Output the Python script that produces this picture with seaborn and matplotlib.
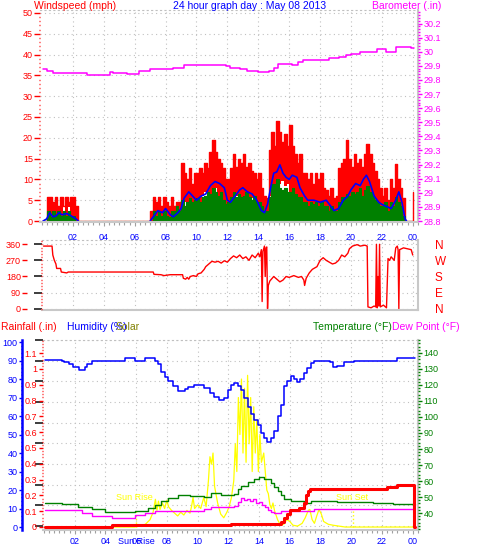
import numpy as np
import matplotlib
matplotlib.use("Agg")
import matplotlib.pyplot as plt
import matplotlib.transforms as mtransforms
import seaborn as sns
from matplotlib.ticker import MultipleLocator, FixedLocator, FuncFormatter

sns.set_theme(style="white")
plt.rcParams["font.family"] = ["Liberation Sans", "DejaVu Sans"]

# ---------------- data (hours since midnight) ----------------
# wind, 10 minute samples from 00:00, mph
gust_hi = [
    0, 0, 5.8, 5.8, 4.5, 5.8,          # 00
    3.5, 5.8, 3.5, 5.8, 4.5, 5.8,      # 01
    5.8, 3.5, 0, 0, 0, 0,              # 02
    0, 0, 0, 0, 0, 0,                  # 03
    0, 0, 0, 0, 0, 0,                  # 04
    0, 0, 0, 0, 0, 0,                  # 05
    0, 0, 0, 0, 0, 0,                  # 06
    2.3, 5.8, 4.5, 5.8, 3.5, 5.8,      # 07
    4.5, 3.5, 5.8, 3.5, 4.5, 4.5,      # 08
    14, 11.5, 10, 12.8, 9, 11.5,       # 09
    11.5, 12.8, 11.5, 14, 12.8, 16.5,  # 10
    19.5, 16.5, 15, 14, 12.8, 10,      # 11
    10, 12.8, 16, 13, 15, 14,          # 12
    16, 13, 14, 12, 11.5, 10,          # 13
    11.5, 8, 6, 5.5, 17, 21.5,         # 14
    18, 24, 21.5, 19, 21, 18,          # 15
    23, 18, 16, 14, 16, 11.5,          # 16
    11.5, 10, 11.5, 9, 11.5, 10,       # 17
    11.5, 8, 7.5, 6, 8, 5.5,           # 18
    6, 12.8, 14, 15, 19.5, 15,         # 19
    13, 16, 14, 15, 13, 16,            # 20
    18.5, 16, 14, 12, 10, 8,           # 21
    6, 8, 5, 10, 8, 13.7,              # 22
    10, 8, 5.5, 0, 0, 0,               # 23
    7]
gust_lo = [
    0, 0, 0, 0, 0, 0,
    0, 0, 3.3, 0, 3.3, 0,
    0, 0, 0, 0, 0, 0,
    0, 0, 0, 0, 0, 0,
    0, 0, 0, 0, 0, 0,
    0, 0, 0, 0, 0, 0,
    0, 0, 0, 0, 0, 0,
    0, 0, 0, 1, 0, 0,
    0, 0, 1.2, 2.3, 2.3, 2.3,
    3.5, 4.5, 4.5, 5.5, 3.5, 4.5,
    5, 4.5, 6, 7, 6.5, 6,
    7, 8, 6, 6.5, 3.5, 4,
    4, 5, 6, 6, 6.5, 5,
    5, 6, 5, 5.5, 3.5, 3,
    2.5, 0.5, 0.5, 1, 6, 8,
    9, 10, 9, 9.5, 8.5, 9,
    7, 8, 6, 5, 5.5, 4,
    4, 3, 2.5, 3, 4, 3,
    3, 2, 2, 1.5, 2, 2,
    1.5, 3.5, 5, 4, 5, 5.5,
    5, 6, 6.5, 6, 5, 6,
    6, 5, 3.5, 3, 2, 2,
    0.5, 1.5, 1, 1.5, 1, 2,
    1.5, 0.5, 0, 0, 0, 0,
    0]
speed_hi = [
    0, 0, 2.3, 1, 2.3, 1.2,
    2.3, 1.2, 2.3, 1.2, 2.3, 1,
    1.2, 0, 0, 0, 0, 0,
    0, 0, 0, 0, 0, 0,
    0, 0, 0, 0, 0, 0,
    0, 0, 0, 0, 0, 0,
    0, 0, 0, 0, 0, 0,
    0, 2.3, 1.2, 2.3, 1.2, 2.3,
    1.2, 1, 2.3, 2.3, 3.5, 2.3,
    5, 3.5, 4.5, 5.5, 4.5, 5,
    5.5, 4.5, 5.8, 6, 7, 6.5,
    8, 7, 6, 7, 5, 4,
    4.5, 5.8, 7, 5.8, 6.5, 5.8,
    6, 7, 5.8, 5, 6, 4.5,
    4.5, 3.5, 2.3, 2.3, 5.8, 9,
    9, 10, 8, 7.5, 8, 7,
    7, 8, 6.5, 5.8, 5.8, 4.5,
    4.5, 3.5, 4.5, 4, 4.5, 3.5,
    4.5, 3.5, 3.5, 2.3, 3.5, 2.3,
    2.3, 4.5, 5.8, 5.8, 6.5, 6,
    7, 6.5, 7, 8, 6, 7.5,
    8.5, 7, 6, 5, 4.5, 3.5,
    3.5, 4.5, 2.3, 4.5, 3.5, 5.8,
    4.5, 3.5, 1.2, 0, 0, 0,
    0]
wind_t = [i / 6 for i in range(len(gust_hi))]

# average wind speed (nan = no line)
avg_t = [0.07, 0.3, 0.5, 0.7, 0.9, 1.1, 1.3, 1.6, 1.9, 2.2, 2.35, 4.5, 7.0, 7.2, 7.5, 7.8,
         8.0, 8.3, 8.5, 8.8, 9.0, 9.2, 9.5, 9.7, 10.0, 10.3, 10.6, 10.9, 11.2, 11.5, 11.8,
         12.0, 12.2, 12.5, 12.8, 13.0, 13.3, 13.6, 13.9, 14.2, 14.4, 14.6, 14.8, 15.0, 15.2,
         15.4, 15.6, 15.8, 16.0, 16.2, 16.5, 16.7, 17.0, 17.2, 17.6, 18.0, 18.4, 18.6, 18.9,
         19.2, 19.5, 19.8, 20.0, 20.3, 20.6, 20.8, 21.0, 21.2, 21.5, 21.8, 22.0, 22.3, 22.6,
         22.9, 23.1, 23.3, 23.5, 23.6]
avg_v = [0, 0.5, 2, 1, 1.2, 2, 1.5, 1.8, 1.2, 0.5, 0, np.nan, 0, 1, 2.5, 2,
         3, 1.5, 1, 2, 3, 5.5, 7, 6.2, 5, 6, 6.5, 8.5, 9.5, 9, 8,
         5, 4.5, 6, 7.5, 8, 7, 6.5, 5, 2.5, 2, 4, 8, 11.5, 11.8,
         13.5, 11.5, 10.5, 10, 11, 10.5, 8, 6, 5, 5, 4.5, 5, 4, 2.5,
         3, 5, 6, 7.5, 9, 8.5, 10, 11, 9.5, 6, 4.5, 4, 3.5, 3,
         5, 7, 4.5, 0.5, 0]

# barometer, inHg
baro_t = [0.05, 0.3, 0.7, 2.5, 2.9, 4.4, 4.6, 5.5, 6.3, 7.0, 8.1, 8.5, 9.2, 11.9, 12.2, 12.8,
          13.3, 14.0, 14.7, 15.0, 15.3, 16.2, 16.6, 16.9, 18.2, 18.6, 19.2, 19.7, 20.0, 20.6,
          21.7, 22.3, 22.9, 23.9, 24.1]
baro_v = [29.876, 29.864, 29.852, 29.85, 29.836, 29.855, 29.85, 29.845, 29.86, 29.876, 29.88,
          29.888, 29.907, 29.9, 29.888, 29.875, 29.862, 29.857, 29.862, 29.885, 29.91, 29.905,
          29.93, 29.945, 29.94, 29.955, 29.96, 29.975, 29.985, 30.0, 30.017, 30.0, 30.033,
          30.026, 30.026]

# wind direction, degrees
dir_t = [0.1, 0.65, 0.7, 0.8, 0.9, 0.95, 1.2, 1.25, 1.6, 1.7,
         7.2, 7.25, 7.7, 7.9, 8.3, 9.1, 9.15, 9.3, 9.4, 9.5,
         9.6, 9.8, 10.0, 10.1, 10.3, 10.5, 10.6, 10.8, 11.0, 11.2,
         11.4, 11.6, 11.8, 12.0, 12.2, 12.4, 12.6, 12.8, 13.0, 13.2,
         13.4, 13.6, 13.8, 14.0, 14.1, 14.2, 14.25, 14.3, 14.4, 14.45,
         14.5, 14.55, 14.6, 14.65, 14.75, 14.9, 15.0, 15.2, 15.4, 15.6,
         15.8, 16.0, 16.3, 16.6, 16.8, 16.95, 17.0, 17.1, 17.3, 17.5,
         17.8, 18.0, 18.2, 18.4, 18.6, 18.8, 19.0, 19.2, 19.4, 19.6,
         19.8, 19.9, 20.1, 20.4, 20.6, 20.9, 21.05, 21.1, 21.3, 21.5,
         21.6, 21.65, 21.7, 21.75, 21.8, 21.85, 21.9, 22.1, 22.3, 22.4,
         22.5, 22.6, 22.8, 22.9, 23.0, 23.05, 23.1, 23.15, 23.4, 23.9,
         24.0]
dir_v = [350, 350, 300, 270, 250, 225, 225, 205, 200, 205,
         205, 192, 190, 185, 190, 190, 170, 165, 175, 165,
         180, 185, 180, 195, 200, 220, 235, 250, 265, 260,
         265, 255, 268, 260, 280, 295, 285, 300, 280, 290,
         270, 300, 285, 310, 290, 330, 40, 320, 350, 180,
         340, 345, 0, 130, 155, 170, 180, 165, 150, 160,
         180, 175, 185, 175, 180, 160, 130, 170, 200, 220,
         235, 270, 285, 270, 260, 250, 255, 270, 300, 290,
         310, 335, 350, 358, 350, 355, 350, 10, 5, 15,
         10, 360, 5, 180, 15, 360, 10, 20, 5, 280,
         270, 290, 270, 340, 350, 330, 0, 330, 340, 330,
         300]

# humidity, %
hum_t = [0.07, 1.16, 1.3, 1.6, 1.9, 2.25, 2.7, 2.8, 3.1, 5.26,
         5.9, 6.56, 7.2, 7.4, 7.64, 7.9, 8.07, 8.4, 8.72, 9.15,
         9.4, 9.79, 10.44, 10.8, 11.09, 11.4, 11.7, 11.95, 12.2, 12.38,
         12.6, 12.81, 13.0, 13.25, 13.5, 13.68, 13.9, 14.11, 14.3, 14.54,
         14.75, 14.97, 15.2, 15.4, 15.62, 15.8, 16.05, 16.3, 16.48, 16.69,
         16.9, 17.12, 17.35, 17.56, 18.64, 18.8, 19.07, 19.5, 20.15, 22.96,
         24.15]
hum_v = [90.5, 90, 89, 88, 86.5, 85, 86.5, 88, 90, 91.5,
         90, 91.5, 90, 88, 84, 81, 79, 76, 73.5, 74.5,
         75.5, 77, 75, 72.5, 70.5, 68.5, 69.5, 74, 77, 78,
         76.5, 74, 70, 65, 61, 58, 55, 51, 48, 46,
         48, 52, 60, 66, 76, 79, 81.5, 80, 78.5, 80,
         83, 86, 88.5, 90, 89, 86.5, 87, 89, 90, 91.5,
         91.5]

# temperature and dew point, F
temp_t = [0.07, 1.16, 2.24, 3.1, 3.96, 5.91, 6.8, 7.2, 7.6, 8.07,
          8.72, 9.5, 10.44, 10.87, 11.52, 12.38, 12.6, 12.81, 13.25, 13.68,
          14.0, 14.3, 14.54, 14.75, 14.97, 15.2, 15.4, 15.62, 16.05, 16.9,
          17.35, 19.07, 20.15, 21.44, 22.74, 24.15]
temp_v = [46.5, 45.5, 44, 42.5, 40.5, 41.5, 43, 45, 47.5, 49.5,
          51, 50.5, 50, 52.5, 51, 52, 55, 57, 59.5, 61.5,
          62.5, 61.5, 61, 59, 56, 53.5, 51, 48.5, 47.5, 46.5,
          47.5, 47, 47, 46, 45.5, 45.5]
dew_t = [0.07, 2.45, 3.1, 4.4, 5.9, 6.56, 7.2, 8.72, 10.44, 10.87,
         12.38, 12.6, 12.8, 13.0, 13.2, 13.4, 13.6, 13.8, 14.0, 14.2,
         14.4, 14.6, 14.8, 14.97, 15.4, 17.56, 24.15]
dew_v = [42, 40, 38, 37, 38.5, 40, 41.5, 41, 42.5, 44,
         44.5, 47, 49.5, 48, 49, 47.5, 48.5, 46.5, 47, 45,
         44, 42, 40.5, 40, 41, 42.5, 42.5]

# rainfall, in
rain_t = [0.07, 4.4, 12.17, 15.4, 15.6, 15.8, 16.0, 16.6, 16.9, 17.05, 17.15, 17.3,
          22.3, 22.96, 24.1, 24.15]
rain_v = [0, 0.01, 0.02, 0.03, 0.06, 0.08, 0.11, 0.12, 0.15, 0.2, 0.23, 0.24,
          0.25, 0.265, 0, 0]

# solar radiation, W/m2
sol_t = [0.07, 5.9, 6.2, 6.6, 6.9, 7.1, 7.25, 7.35, 7.45, 7.55,
         7.7, 7.85, 8.0, 8.1, 8.3, 8.5, 8.7, 8.9, 9.1, 9.3,
         9.5, 9.6, 9.7, 9.8, 10.0, 10.2, 10.4, 10.55, 10.7, 10.8,
         10.9, 11.0, 11.1, 11.3, 11.5, 11.7, 11.9, 12.05, 12.2, 12.35,
         12.45, 12.55, 12.65, 12.75, 12.85, 12.95, 13.05, 13.15, 13.25, 13.35,
         13.45, 13.55, 13.65, 13.75, 13.85, 13.95, 14.05, 14.15, 14.3, 14.4,
         14.5, 14.6, 14.7, 14.8, 14.9, 15.0, 15.2, 15.4, 15.6, 15.8,
         16.0, 16.2, 16.5, 16.8, 17.0, 17.2, 17.3, 17.45, 17.6, 17.75,
         17.9, 18.05, 18.2, 18.5, 18.8, 19.2, 19.6, 24.1]
sol_v = [0, 0, 5, 15, 40, 80, 150, 90, 140, 95,
         130, 100, 145, 110, 90, 75, 60, 80, 65, 90,
         75, 110, 160, 100, 120, 100, 160, 110, 250, 380,
         340, 400, 220, 130, 70, 50, 80, 110, 160, 250,
         450, 300, 700, 500, 800, 400, 750, 350, 820, 450,
         700, 300, 650, 400, 580, 300, 500, 350, 400, 300,
         200, 180, 120, 100, 130, 90, 40, 10, 15, 40,
         30, 10, 5, 20, 50, 90, 95, 40, 20, 60,
         95, 70, 30, 15, 10, 5, 0, 0]

sunrise, sunset = 5.98, 20.11

hour_ticks = list(range(2, 25, 2))
hour_labels = [f"{h % 24:02d}" for h in hour_ticks]
wind_ticks = list(range(0, 51, 5))
baro_ticks = [round(28.8 + 0.1 * i, 1) for i in range(15)]
dir_ticks = [0, 90, 180, 270, 360]
dir_letters = ["N", "E", "S", "W", "N"]
hum_ticks = list(range(0, 101, 10))
rain_ticks = [round(0.1 * i, 1) for i in range(12)]
temp_ticks = list(range(40, 141, 10))

# ---------------- styling ----------------
W, H = 478, 555
RED, BLUE, GREEN, MAG = "#ff0000", "#0000ff", "#008000", "#ff00ff"
YEL, OLIVE = "#ffff00", "#808000"
GRID, FRAME, TICK = "#c0c0c0", "#c8c8c8", "#a0a0a0"
DOT = (0, (1, 3))


def box(l, t, r, b):
    return [l / W, 1 - b / H, (r - l) / W, (b - t) / H]


def px(p):
    return p * 72 / 100


gfmt = FuncFormatter(lambda v, pos: f"{round(v, 2):g}")


def base_frame(ax, xlim, xlabels=True, xpad=4.7):
    ax.set_facecolor("white")
    ax.set_xlim(*xlim)
    for s in ("right", "bottom"):
        ax.spines[s].set_color(FRAME)
        ax.spines[s].set_linewidth(1.5)
    ax.spines["top"].set_color(GRID)
    ax.spines["top"].set_linestyle(DOT)
    ax.spines["top"].set_linewidth(0.8)
    ax.spines["left"].set_visible(False)
    ax.xaxis.set_major_locator(FixedLocator(hour_ticks))
    ax.xaxis.set_minor_locator(MultipleLocator(1 / 3))
    ax.set_xticklabels(hour_labels)
    ax.grid(True, axis="x", which="major", color=GRID, linestyle=DOT, linewidth=0.8)
    ax.tick_params(axis="x", which="both", direction="out", color=TICK, width=0.8,
                   labelcolor=BLUE, labelsize=6.5, bottom=xlabels, labelbottom=xlabels,
                   pad=xpad)
    ax.tick_params(axis="x", which="major", length=px(4))
    ax.tick_params(axis="x", which="minor", length=px(2.5))


def clean_twin(ax):
    for s in ax.spines.values():
        s.set_visible(False)
    ax.grid(False)
    ax.tick_params(axis="x", which="both", bottom=False, top=False,
                   labelbottom=False, labeltop=False)


def yticks(ax, side, color, major, minor, maj_len, pad, size=6.5):
    ax.yaxis.set_ticks_position(side)
    ax.yaxis.set_major_locator(FixedLocator(major))
    ax.yaxis.set_minor_locator(MultipleLocator(minor))
    ax.yaxis.set_major_formatter(gfmt)
    ax.tick_params(axis="y", which="both", direction="out", color=color, labelcolor=color,
                   width=1, labelsize=size, pad=px(pad))
    ax.tick_params(axis="y", which="major", length=px(maj_len))
    ax.tick_params(axis="y", which="minor", length=px(1.5))


fig = plt.figure(figsize=(W / 100, H / 100), dpi=100)
fig.patch.set_facecolor("white")

# ---------------- panel 1: wind + barometer ----------------
ax1 = fig.add_axes(box(40, 10, 418, 222))
base_frame(ax1, (-0.13, 24.34), xpad=px(6.5))
ax1.set_ylim(-0.24, 50.72)
yticks(ax1, "left", RED, wind_ticks, 1, 6, 1)
ax1.grid(True, axis="y", which="major", color=GRID, linestyle=DOT, linewidth=0.8)

ax1.fill_between(wind_t, gust_lo, gust_hi, step="post", color=RED, lw=0)
ax1.plot(wind_t, gust_hi, drawstyle="steps-post", color=RED, lw=1)
ax1.fill_between(wind_t, 0, speed_hi, step="post", color=GREEN, lw=0)
ax1.plot(wind_t, speed_hi, drawstyle="steps-post", color=GREEN, lw=0.8)
ax1.plot(avg_t, avg_v, color=BLUE, lw=1.2)

ax1b = ax1.twinx()
clean_twin(ax1b)
ax1b.set_ylim(28.793, 30.296)
yticks(ax1b, "right", MAG, baro_ticks, 0.02, 4, 1.5)
sns.lineplot(x=baro_t, y=baro_v, ax=ax1b, color=MAG, lw=1.1, drawstyle="steps-post",
             estimator=None, sort=False)
ax1b.set_ylabel("")
ax1.set_xlim(-0.13, 24.34)

fig.text(34 / W, 1 - 6 / H, "Windspeed (mph)", color=RED, fontsize=7.5, va="center")
fig.text(250 / W, 1 - 6 / H, "24 hour graph day : May 08 2013", color=BLUE, fontsize=7.5,
         va="center", ha="center")
fig.text(372 / W, 1 - 6 / H, "Barometer (.in)", color=MAG, fontsize=7.5, va="center")

# ---------------- panel 2: wind direction ----------------
ax2 = fig.add_axes(box(42, 240, 418, 310))
base_frame(ax2, (0, 24.34), xlabels=False)
ax2.set_ylim(-7.3, 384)
ax2.yaxis.set_major_locator(FixedLocator(dir_ticks))
ax2.grid(True, axis="y", which="major", color=GRID, linestyle=DOT, linewidth=0.8)
ax2.tick_params(axis="y", which="both", left=False, labelleft=False)
sns.lineplot(x=dir_t, y=dir_v, ax=ax2, color=RED, lw=1, estimator=None, sort=False)
ax2.set_ylabel("")
ax2.set_xlim(0, 24.34)

ax2l = ax2.twinx()
clean_twin(ax2l)
ax2l.set_ylim(-7.3, 384)
ax2l.spines["left"].set_position(("outward", px(15)))
yticks(ax2l, "left", RED, dir_ticks, 400, 5, 1)
ax2m = ax2.twinx()
clean_twin(ax2m)
ax2m.set_ylim(-7.3, 384)
ax2m.yaxis.set_ticks_position("left")
ax2m.yaxis.set_major_locator(FixedLocator([]))
ax2m.yaxis.set_minor_locator(MultipleLocator(18))
ax2m.tick_params(axis="y", which="minor", direction="out", color=RED, width=1,
                 length=px(1.5))
ax2r = ax2.twinx()
clean_twin(ax2r)
ax2r.set_ylim(-7.3, 384)
ax2r.yaxis.set_major_locator(FixedLocator(dir_ticks))
ax2r.set_yticklabels(dir_letters)
ax2r.tick_params(axis="y", which="both", length=0, labelcolor=RED, labelsize=8.5,
                 pad=px(17))

# ---------------- panel 3: rain, humidity, solar, temperature ----------------
ax3 = fig.add_axes(box(43, 340, 418, 530))
base_frame(ax3, (-0.065, 24.34), xpad=px(3.5))
ax3.set_ylim(-0.19, 9.0)
ax3.yaxis.set_major_locator(MultipleLocator(1))
ax3.grid(True, axis="y", which="major", color=GRID, linestyle=DOT, linewidth=0.8)
ax3.tick_params(axis="y", which="both", left=False, right=False, labelleft=False)

ax_sol = ax3.twinx()
clean_twin(ax_sol)
ax_sol.set_ylim(-16, 1011)
ax_sol.tick_params(axis="y", which="both", right=False, labelright=False)
sns.lineplot(x=sol_t, y=sol_v, ax=ax_sol, color=YEL, lw=0.9, estimator=None, sort=False)
ax_sol.vlines([sunrise, sunset], 0, 85, colors=YEL, linestyles=":", lw=1)
ax_sol.text(5.85, 162, "Sun Rise", color=YEL, fontsize=6.5, ha="center", va="center")
ax_sol.text(20.02, 162, "Sun Set", color=YEL, fontsize=6.5, ha="center", va="center")
ax_sol.set_ylabel("")

ax_temp = ax3.twinx()
clean_twin(ax_temp)
ax_temp.set_ylim(29.4, 148.1)
yticks(ax_temp, "right", GREEN, temp_ticks, 2, 4, 1.5)
sns.lineplot(x=temp_t, y=temp_v, ax=ax_temp, color=GREEN, lw=1, drawstyle="steps-post",
             estimator=None, sort=False)
sns.lineplot(x=dew_t, y=dew_v, ax=ax_temp, color=MAG, lw=1, drawstyle="steps-post",
             estimator=None, sort=False)
ax_temp.set_ylabel("")

ax_hum = ax3.twinx()
clean_twin(ax_hum)
ax_hum.set_ylim(-1.6, 101.1)
ax_hum.spines["left"].set_visible(True)
ax_hum.spines["left"].set_position(("outward", px(21.3)))
ax_hum.spines["left"].set_color(BLUE)
ax_hum.spines["left"].set_linewidth(1.8)
yticks(ax_hum, "left", BLUE, hum_ticks, 2, 3, 1.2)
sns.lineplot(x=hum_t, y=hum_v, ax=ax_hum, color=BLUE, lw=1.1, drawstyle="steps-post",
             estimator=None, sort=False)
ax_hum.set_ylabel("")

ax_rain = ax3.twinx()
clean_twin(ax_rain)
ax_rain.set_ylim(-0.019, 1.1835)
yticks(ax_rain, "left", RED, rain_ticks, 0.02, 4, 2)
sns.lineplot(x=rain_t, y=rain_v, ax=ax_rain, color=RED, lw=2.2, drawstyle="steps-post",
             estimator=None, sort=False)
ax_rain.set_ylabel("")
ax3.set_xlim(-0.065, 24.34)

blend = mtransforms.blended_transform_factory(ax3.transData, fig.transFigure)
ax3.text(sunrise, 1 - 541 / H, "Sun Rise", color=BLUE, fontsize=6.5, ha="center",
         va="center", transform=blend)

fig.text(1 / W, 1 - 327 / H, "Rainfall (.in)", color=RED, fontsize=7.5, va="center")
fig.text(67 / W, 1 - 327 / H, "Humidity (%)", color=BLUE, fontsize=7.5, va="center")
fig.text(116 / W, 1 - 327 / H, "Solar", color=OLIVE, fontsize=7.5, va="center")
fig.text(313 / W, 1 - 327 / H, "Temperature (°F)", color=GREEN, fontsize=7.5, va="center")
fig.text(392 / W, 1 - 327 / H, "Dew Point (°F)", color=MAG, fontsize=7.5, va="center")

fig.savefig("out.png", dpi=100, facecolor="white")
